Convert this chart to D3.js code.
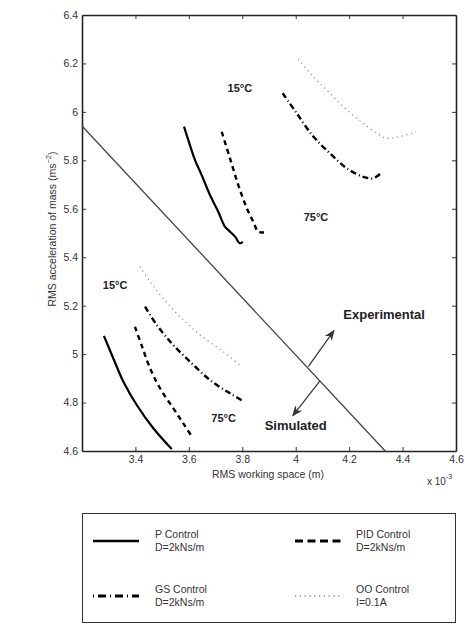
<!DOCTYPE html>
<html>
<head>
<meta charset="utf-8">
<script src="https://cdn.jsdelivr.net/npm/d3@7"></script>
<style>
  body { margin: 0; background: #fff; }
  svg { font-family: "Liberation Sans", Arial, sans-serif; }
</style>
</head>
<body>
<div id="chart"></div>
<script>
// --------------------------------------
//  Data
// --------------------------------------

const xTicks = [3.2, 3.4, 3.6, 3.8, 4, 4.2, 4.4, 4.6];
const xTickLabels = ["", "3.4", "3.6", "3.8", "4", "4.2", "4.4", "4.6"];
const yTicks = [4.6, 4.8, 5, 5.2, 5.4, 5.6, 5.8, 6, 6.2, 6.4];

// simulated (lower-left) curves
const pSim = [[3.282, 5.075], [3.317, 4.983], [3.355, 4.886], [3.405, 4.790], [3.467, 4.694], [3.536, 4.608]];
const pidSim = [[3.398, 5.113], [3.423, 5.037], [3.455, 4.941], [3.492, 4.859], [3.542, 4.776], [3.579, 4.714], [3.614, 4.655]];
const gsSim = [[3.436, 5.196], [3.480, 5.120], [3.542, 5.037], [3.604, 4.969], [3.679, 4.893], [3.754, 4.838], [3.804, 4.806]];
const ooSim = [[3.417, 5.361], [3.455, 5.299], [3.504, 5.230], [3.567, 5.154], [3.642, 5.079], [3.729, 5.010], [3.798, 4.948]];

// experimental (upper-right) curves
const pExp = [[3.582, 5.939], [3.604, 5.863], [3.623, 5.801], [3.648, 5.739], [3.679, 5.657], [3.710, 5.588], [3.735, 5.526], [3.748, 5.512], [3.773, 5.485], [3.791, 5.457], [3.802, 5.464]];
const pidExp = [[3.723, 5.918], [3.754, 5.808], [3.785, 5.698], [3.817, 5.602], [3.841, 5.547], [3.860, 5.505], [3.881, 5.503]];
const gsExp = [[3.951, 6.077], [4.004, 5.994], [4.066, 5.898], [4.128, 5.829], [4.191, 5.767], [4.253, 5.732], [4.290, 5.726], [4.318, 5.746]];
const ooExp = [[4.010, 6.217], [4.066, 6.145], [4.128, 6.077], [4.191, 6.008], [4.253, 5.953], [4.303, 5.912], [4.341, 5.891], [4.390, 5.898], [4.450, 5.918]];

// dividing line and arrows
const divider = [[3.2, 5.942], [4.335, 4.6]];
const arrowExp = [[4.047, 4.948], [4.143, 5.097]];
const arrowSim = [[4.091, 4.890], [3.989, 4.746]];

// annotations
const tempLabels = [
  {text: "15°C", x: 3.791, y: 6.082},
  {text: "75°C", x: 4.076, y: 5.549},
  {text: "15°C", x: 3.324, y: 5.269},
  {text: "75°C", x: 3.730, y: 4.720}
];
const regionLabels = [
  {text: "Experimental", x: 4.331, y: 5.145},
  {text: "Simulated", x: 4.0, y: 4.687}
];

// legend
const legendNames = ["P Control", "PID Control", "GS Control", "OO Control"];
const legendSubs = ["D=2kNs/m", "D=2kNs/m", "D=2kNs/m", "I=0.1A"];

// --------------------------------------
//  Canvas and scales
// --------------------------------------

const width = 465;
const height = 633;

const svg = d3.select("#chart")
  .append("svg")
    .attr("width", width)
    .attr("height", height);

const x = d3.scaleLinear()
  .domain([3.2, 4.6])
  .range([82, 456]);

const y = d3.scaleLinear()
  .domain([4.6, 6.4])
  .range([451, 15]);

const styles = {
  "P Control":   {stroke: "#000", width: 2.2, dash: null, legendDash: null},
  "PID Control": {stroke: "#000", width: 2.4, dash: "5,4", legendDash: "8,4.5"},
  "GS Control":  {stroke: "#000", width: 2.4, dash: "6,3,1,3", legendDash: "1,4,8,4"},
  "OO Control":  {stroke: "#888", width: 1.2, dash: "1.2,3.6", legendDash: "1.2,3.6"}
};

const series = [
  {name: "P Control", data: pSim}, {name: "P Control", data: pExp},
  {name: "PID Control", data: pidSim}, {name: "PID Control", data: pidExp},
  {name: "GS Control", data: gsSim}, {name: "GS Control", data: gsExp},
  {name: "OO Control", data: ooSim}, {name: "OO Control", data: ooExp}
];

// --------------------------------------
//  Axes (box with inward ticks)
// --------------------------------------

const tickLen = 4;

const axisBottom = svg.append("g")
  .attr("transform", `translate(0, ${y(4.6)})`)
  .call(d3.axisBottom(x).tickValues(xTicks).tickFormat((d, i) => xTickLabels[i])
    .tickSizeInner(-tickLen).tickSizeOuter(0).tickPadding(5));

const axisTop = svg.append("g")
  .attr("transform", `translate(0, ${y(6.4)})`)
  .call(d3.axisTop(x).tickValues(xTicks).tickFormat("").tickSizeInner(-tickLen).tickSizeOuter(0));

const axisLeft = svg.append("g")
  .attr("transform", `translate(${x(3.2)}, 0)`)
  .call(d3.axisLeft(y).tickValues(yTicks).tickFormat(d3.format("~g"))
    .tickSizeInner(-tickLen).tickSizeOuter(0).tickPadding(4));

const axisRight = svg.append("g")
  .attr("transform", `translate(${x(4.6)}, 0)`)
  .call(d3.axisRight(y).tickValues(yTicks).tickFormat("").tickSizeInner(-tickLen).tickSizeOuter(0));

[axisBottom, axisTop, axisLeft, axisRight].forEach(a => {
  a.select(".domain").attr("stroke", "#222").attr("stroke-width", 1.6);
  a.selectAll(".tick line").attr("stroke", "#333").attr("stroke-width", 1);
  a.selectAll(".tick text").attr("font-size", 10.5).attr("fill", "#333")
    .attr("font-family", "Liberation Sans, Arial, sans-serif");
});

// hide ticks that sit on the corners
[axisBottom, axisTop].forEach(a => a.selectAll(".tick line").filter(d => d === 3.2 || d === 4.6).remove());
[axisLeft, axisRight].forEach(a => a.selectAll(".tick line").filter(d => d === 4.6 || d === 6.4).remove());

svg.append("text")
  .attr("x", 268)
  .attr("y", 478)
  .attr("text-anchor", "middle")
  .attr("font-size", 10.5)
  .attr("fill", "#333")
  .text("RMS working space (m)");

const yLabel = svg.append("text")
  .attr("transform", `translate(56, 229) rotate(-90)`)
  .attr("text-anchor", "middle")
  .attr("font-size", 10.5)
  .attr("fill", "#333");
yLabel.append("tspan").text("RMS acceleration of mass (ms");
yLabel.append("tspan").attr("dy", -5).attr("font-size", 7.5).text("−2");
yLabel.append("tspan").attr("dy", 5).text(")");

const exp = svg.append("text")
  .attr("x", 427)
  .attr("y", 485)
  .attr("font-size", 10)
  .attr("fill", "#333");
exp.append("tspan").text("x 10");
exp.append("tspan").attr("dy", -6).attr("font-size", 7).text("-3");

// --------------------------------------
//  Divider line and arrows
// --------------------------------------

svg.append("defs").append("marker")
    .attr("id", "arrow")
    .attr("viewBox", "0 0 10 10")
    .attr("refX", 9)
    .attr("refY", 5)
    .attr("markerWidth", 9)
    .attr("markerHeight", 9)
    .attr("orient", "auto")
  .append("path")
    .attr("d", "M0,1 L10,5 L0,9 L3,5 Z")
    .attr("fill", "#333");

const line = d3.line()
  .x(d => x(d[0]))
  .y(d => y(d[1]));

svg.append("path")
  .attr("d", line(divider))
  .attr("fill", "none")
  .attr("stroke", "#444")
  .attr("stroke-width", 1.3);

[arrowExp, arrowSim].forEach(a => {
  svg.append("path")
    .attr("d", line(a))
    .attr("fill", "none")
    .attr("stroke", "#333")
    .attr("stroke-width", 1.2)
    .attr("marker-end", "url(#arrow)");
});

// --------------------------------------
//  Curves
// --------------------------------------

const curveLine = d3.line()
  .x(d => x(d[0]))
  .y(d => y(d[1]))
  .curve(d3.curveCatmullRom);

series.forEach(s => {
  const st = styles[s.name];
  svg.append("path")
    .attr("d", curveLine(s.data))
    .attr("fill", "none")
    .attr("stroke", st.stroke)
    .attr("stroke-width", st.width)
    .attr("stroke-dasharray", st.dash);
});

// --------------------------------------
//  Annotations
// --------------------------------------

svg.selectAll(".temp")
  .data(tempLabels)
  .join("text")
    .attr("class", "temp")
    .attr("x", d => x(d.x))
    .attr("y", d => y(d.y))
    .attr("text-anchor", "middle")
    .attr("font-size", 11)
    .attr("font-weight", "bold")
    .attr("fill", "#222")
    .text(d => d.text);

svg.selectAll(".region")
  .data(regionLabels)
  .join("text")
    .attr("class", "region")
    .attr("x", d => x(d.x))
    .attr("y", d => y(d.y))
    .attr("text-anchor", "middle")
    .attr("font-size", 13)
    .attr("font-weight", "bold")
    .attr("fill", "#222")
    .text(d => d.text);

// --------------------------------------
//  Legend
// --------------------------------------

svg.append("rect")
  .attr("x", 82.5)
  .attr("y", 513.5)
  .attr("width", 373)
  .attr("height", 109)
  .attr("fill", "none")
  .attr("stroke", "#333")
  .attr("stroke-width", 1);

const legendPos = [
  {lx: 93, tx: 155, ly: 541},
  {lx: 295, tx: 356, ly: 541},
  {lx: 93, tx: 155, ly: 596},
  {lx: 295, tx: 356, ly: 596}
];

legendNames.forEach((name, i) => {
  const st = styles[name];
  const p = legendPos[i];
  svg.append("line")
    .attr("x1", p.lx)
    .attr("x2", p.lx + 46)
    .attr("y1", p.ly)
    .attr("y2", p.ly)
    .attr("stroke", st.stroke)
    .attr("stroke-width", st.width + 0.4)
    .attr("stroke-dasharray", st.legendDash);

  svg.append("text")
    .attr("x", p.tx)
    .attr("y", p.ly - 3)
    .attr("font-size", 10.5)
    .attr("fill", "#333")
    .text(name);

  svg.append("text")
    .attr("x", p.tx)
    .attr("y", p.ly + 10)
    .attr("font-size", 10.5)
    .attr("fill", "#333")
    .text(legendSubs[i]);
});
</script>
</body>
</html>
